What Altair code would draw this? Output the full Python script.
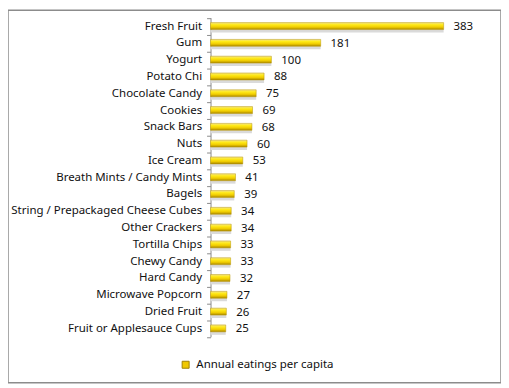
import altair as alt
import pandas as pd

categories = ["Fresh Fruit", "Gum", "Yogurt", "Potato Chi", "Chocolate Candy", "Cookies",
              "Snack Bars", "Nuts", "Ice Cream", "Breath Mints / Candy Mints", "Bagels",
              "String / Prepackaged Cheese Cubes", "Other Crackers", "Tortilla Chips",
              "Chewy Candy", "Hard Candy", "Microwave Popcorn", "Dried Fruit",
              "Fruit or Applesauce Cups"]
values = [383, 181, 100, 88, 75, 69, 68, 60, 53, 41, 39, 34, 34, 33, 33, 32, 27, 26, 25]
series_name = "Annual eatings per capita"

df = pd.DataFrame({"item": categories, "value": values, "series": series_name})
legend_df = pd.DataFrame({"series": [series_name], "value": [0], "item": [categories[0]]})

FONT = "Noto Sans"
FS = 11.6

y_enc = alt.Y("item:N", sort=categories,
              scale=alt.Scale(range=[7.5, 330.5], paddingInner=0, paddingOuter=0),
              axis=alt.Axis(title=None, orient="left", offset=-205, labelFont=FONT,
                            labelFontSize=FS, labelColor="#111", labelPadding=5,
                            domainColor="#8a8a8a", tickColor="#8a8a8a", tickSize=4,
                            tickBand="extent", grid=False, labelLimit=300))
x_scale = alt.Scale(domain=[0, 400], range=[205, 451.4])

gradient = alt.Gradient(
    gradient="linear", x1=0, y1=0, x2=0, y2=1,
    stops=[alt.GradientStop(color="#f4e58a", offset=0),
           alt.GradientStop(color="#ffea1a", offset=0.3),
           alt.GradientStop(color="#f0cc00", offset=0.65),
           alt.GradientStop(color="#a88600", offset=1)])

shadow = alt.Chart(df).mark_bar(size=3, color="#dadada", yOffset=5).encode(
    y=y_enc,
    x=alt.X("value:Q", scale=x_scale, axis=None),
)

bars = alt.Chart(df).mark_bar(size=7, color=gradient, stroke="#b89400", strokeWidth=0.5).encode(
    y=y_enc,
    x=alt.X("value:Q", scale=x_scale, axis=None),
)

legend_layer = alt.Chart(legend_df).mark_square(opacity=0).encode(
    y=y_enc,
    x=alt.X("value:Q", scale=x_scale, axis=None),
    fill=alt.Fill("series:N", scale=alt.Scale(range=["#f0c800"]),
                  legend=alt.Legend(title=None, orient="none", legendX=174, legendY=353,
                                    symbolType="square", symbolSize=50, symbolOpacity=1,
                                    symbolFillColor="#f0c800",
                                    symbolStrokeColor="#a08000", symbolStrokeWidth=1,
                                    labelFont=FONT, labelFontSize=FS, labelColor="#111",
                                    labelOffset=5)),
)

labels = alt.Chart(df).mark_text(align="left", baseline="middle", dx=10, dy=1,
                                 font=FONT, fontSize=FS, color="#111").encode(
    y=y_enc,
    x=alt.X("value:Q", scale=x_scale, axis=None),
    text=alt.Text("value:Q"),
)

chart = alt.layer(shadow, bars, legend_layer, labels).properties(
    width=499, height=377, padding=0,
    autosize=alt.AutoSizeParams(type="none"),
    background="white",
).configure_view(stroke="#8c8c8c", strokeWidth=1.5)

chart.save("out.html", embed_options={"renderer": "svg", "actions": False})
